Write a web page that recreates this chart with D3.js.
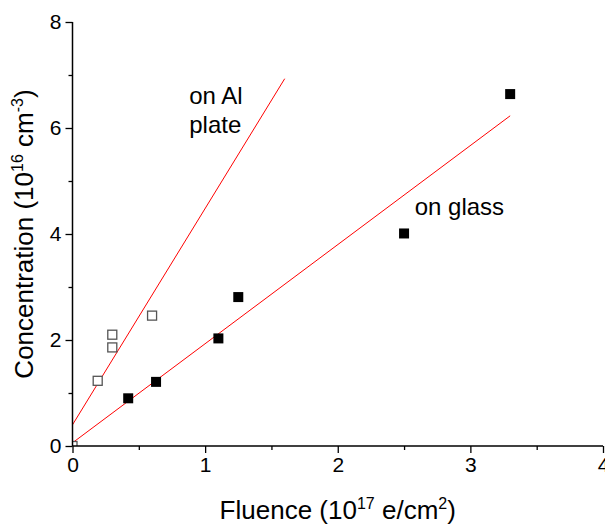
<!DOCTYPE html>
<html>
<head>
<meta charset="utf-8">
<script src="https://cdn.jsdelivr.net/npm/d3@7"></script>
<style>
  body { margin: 0; background: #fff; }
  text { font-family: Arial, "Liberation Sans", sans-serif; }
</style>
</head>
<body>
<div id="chart"></div>
<script>
    // measured points (fluence in 1e17 e/cm2, concentration in 1e16 cm-3)
    const glassX = [0.42, 0.63, 1.10, 1.25, 2.50, 3.30];
    const glassY = [0.90, 1.21, 2.03, 2.81, 4.01, 6.64];
    const plateX = [0.00, 0.19, 0.30, 0.30, 0.60];
    const plateY = [0.00, 1.23, 1.86, 2.10, 2.46];
    // linear fits, drawn between their end points
    const glassFit = [[0, 0.06], [3.3, 6.23]];
    const plateFit = [[0, 0.40], [1.6, 6.93]];

    const xMajor = [0, 1, 2, 3, 4];
    const xMinor = [0.5, 1.5, 2.5, 3.5];
    const yMajor = [0, 2, 4, 6, 8];
    const yMinor = [1, 3, 5, 7];

    const margin = {top: 22, right: 2, bottom: 79, left: 72.5},
        width = 605 - margin.left - margin.right,
        height = 525 - margin.top - margin.bottom;

    const svg = d3.select("#chart")
        .append("svg")
        .attr("width", 605)
        .attr("height", 525)
        .append("g")
        .attr("transform", "translate(" + margin.left + "," + margin.top + ")");

    const xScale = d3.scaleLinear().domain([0, 4]).range([0, width]);
    const yScale = d3.scaleLinear().domain([0, 8]).range([height, 0]);

    svg.append("clipPath").attr("id", "plotClip")
        .append("rect").attr("width", width).attr("height", height);

    const plotArea = svg.append("g").attr("clip-path", "url(#plotClip)");

    // fit lines
    const toLine = d3.line()
        .x(d => xScale(d[0]))
        .y(d => yScale(d[1]));
    plotArea.selectAll("fitLines")
        .data([glassFit, plateFit])
        .join("path")
        .attr("d", d => toLine(d))
        .attr("stroke", "#ff0000")
        .attr("stroke-width", 1)
        .attr("fill", "none");

    // open squares: on Al plate
    const plate = plateX.map((x, i) => [x, plateY[i]]);
    const so = 9;
    plotArea.selectAll("plateDots")
        .data(plate)
        .join("rect")
        .attr("x", d => xScale(d[0]) - so / 2)
        .attr("y", d => yScale(d[1]) - so / 2)
        .attr("width", so)
        .attr("height", so)
        .attr("fill", "#fff")
        .attr("stroke", "#555")
        .attr("stroke-width", 1.3);

    // filled squares: on glass
    const glass = glassX.map((x, i) => [x, glassY[i]]);
    const sf = 10;
    plotArea.selectAll("glassDots")
        .data(glass)
        .join("rect")
        .attr("x", d => xScale(d[0]) - sf / 2)
        .attr("y", d => yScale(d[1]) - sf / 2)
        .attr("width", sf)
        .attr("height", sf)
        .attr("fill", "#000");

    // axes
    const xAxis = svg.append("g")
        .attr("transform", "translate(0," + height + ")")
        .call(d3.axisBottom(xScale).tickValues(xMajor).tickSize(7).tickPadding(4).tickFormat(d3.format("d")));
    svg.append("g")
        .attr("transform", "translate(0," + height + ")")
        .call(d3.axisBottom(xScale).tickValues(xMinor).tickSize(4).tickFormat(""))
        .select(".domain").remove();
    const yAxis = svg.append("g")
        .call(d3.axisLeft(yScale).tickValues(yMajor).tickSize(7).tickPadding(4).tickFormat(d3.format("d")));
    svg.append("g")
        .call(d3.axisLeft(yScale).tickValues(yMinor).tickSize(4).tickFormat(""))
        .select(".domain").remove();

    svg.selectAll(".domain").attr("stroke-width", 1.5);
    xAxis.select(".domain").attr("d", "M0,0H" + width);
    yAxis.select(".domain").attr("d", "M0,0V" + height);
    svg.selectAll(".tick line").attr("stroke-width", 1.3);
    svg.selectAll(".tick text")
        .style("font-size", "21px")
        .attr("fill", "#000");

    // axis titles
    const xTitle = svg.append("text")
        .attr("x", width / 2)
        .attr("y", height + 73)
        .attr("text-anchor", "middle")
        .style("font-size", "26px");
    xTitle.append("tspan").text("Fluence (10");
    xTitle.append("tspan").attr("dy", -10).style("font-size", "16px").text("17");
    xTitle.append("tspan").attr("dy", 10).text(" e/cm");
    xTitle.append("tspan").attr("dy", -10).style("font-size", "16px").text("2");
    xTitle.append("tspan").attr("dy", 10).text(")");

    const yTitle = svg.append("text")
        .attr("transform", "translate(" + (33 - margin.left) + "," + (height / 2) + ") rotate(-90)")
        .attr("text-anchor", "middle")
        .style("font-size", "26px");
    yTitle.append("tspan").text("Concentration (10");
    yTitle.append("tspan").attr("dy", -10).style("font-size", "16px").text("16");
    yTitle.append("tspan").attr("dy", 10).text(" cm");
    yTitle.append("tspan").attr("dy", -10).style("font-size", "16px").text("-3");
    yTitle.append("tspan").attr("dy", 10).text(")");

    // annotations
    const notes = [
        {text: "on Al", x: 0.88, y: 6.45},
        {text: "plate", x: 0.88, y: 5.91},
        {text: "on glass", x: 2.58, y: 4.36}
    ];
    svg.selectAll("notes")
        .data(notes)
        .join("text")
        .attr("x", d => xScale(d.x))
        .attr("y", d => yScale(d.y))
        .style("font-size", "24px")
        .text(d => d.text);
</script>
</body>
</html>
